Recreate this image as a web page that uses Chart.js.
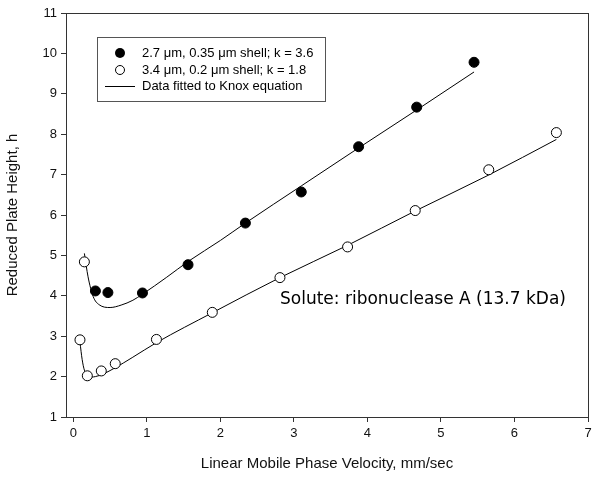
<!DOCTYPE html>
<html>
<head>
<meta charset="utf-8">
<script src="https://cdn.jsdelivr.net/npm/chart.js@4.4.1/dist/chart.umd.min.js"></script>
<style>
  html, body { margin: 0; padding: 0; background: #fff; }
  #wrap { width: 600px; height: 477px; }
</style>
</head>
<body>
<div id="wrap"><canvas id="plateChart"></canvas></div>
<script>
// measured points
const shell035X = [0.30, 0.47, 0.94, 1.56, 2.34, 3.10, 3.88, 4.67, 5.45];
const shell035Y = [4.12, 4.08, 4.07, 4.77, 5.80, 6.57, 7.69, 8.67, 9.78];
const shell02X = [0.09, 0.15, 0.19, 0.38, 0.57, 1.13, 1.89, 2.81, 3.73, 4.65, 5.65, 6.57];
const shell02Y = [2.91, 4.84, 2.02, 2.14, 2.32, 2.92, 3.59, 4.45, 5.21, 6.11, 7.12, 8.04];

// Knox fit curves
const fit035X = [0.15, 0.20, 0.27, 0.35, 0.50, 0.65, 0.81, 0.94, 1.27, 1.57, 2.00, 2.34, 3.10, 3.88, 4.67, 5.45];
const fit035Y = [5.05, 4.47, 3.98, 3.78, 3.71, 3.77, 3.89, 4.04, 4.46, 4.86, 5.37, 5.80, 6.72, 7.66, 8.60, 9.54];
const fit02X = [0.09, 0.12, 0.15, 0.20, 0.25, 0.30, 0.40, 0.57, 0.80, 1.13, 1.89, 2.81, 3.73, 4.65, 5.65, 6.57];
const fit02Y = [2.85, 2.42, 2.16, 2.03, 1.99, 2.00, 2.06, 2.22, 2.47, 2.84, 3.58, 4.45, 5.25, 6.10, 6.99, 7.87];

const xTicks = [0, 1, 2, 3, 4, 5, 6, 7];
const yTicks = [1, 2, 3, 4, 5, 6, 7, 8, 9, 10, 11];

const labels = [
  "2.7 \u03bcm, 0.35 \u03bcm shell; k = 3.6",
  "3.4 \u03bcm, 0.2 \u03bcm shell; k = 1.8",
  "Data fitted to Knox equation"
];
const note = "Solute: ribonuclease A (13.7 kDa)";

const toPoints = (xs, ys) => xs.map((x, i) => ({ x, y: ys[i] }));
const axisFont = { family: "'Liberation Sans', Arial, sans-serif", size: 13 };
const titleFont = { family: "'Liberation Sans', Arial, sans-serif", size: 15 };

const framePlugin = {
  id: "frame",
  afterDraw(chart) {
    const { ctx, chartArea: a } = chart;
    ctx.save();
    ctx.strokeStyle = "#333";
    ctx.lineWidth = 1;
    ctx.strokeRect(a.left + 0.5, a.top + 0.5, a.right - a.left, a.bottom - a.top);

    // legend box
    const bx = 97, by = 37, bw = 228, bh = 64;
    ctx.fillStyle = "#fff";
    ctx.fillRect(bx, by, bw, bh);
    ctx.strokeStyle = "#555";
    ctx.strokeRect(bx + 0.5, by + 0.5, bw, bh);
    ctx.font = "13px 'Liberation Sans', Arial, sans-serif";
    ctx.textBaseline = "middle";
    ctx.fillStyle = "#000";
    const rows = [53, 70, 86];
    ctx.beginPath();
    ctx.arc(120, rows[0], 5, 0, Math.PI * 2);
    ctx.fill();
    ctx.beginPath();
    ctx.arc(120, rows[1], 4.5, 0, Math.PI * 2);
    ctx.strokeStyle = "#000";
    ctx.stroke();
    ctx.beginPath();
    ctx.moveTo(105, rows[2] + 0.5);
    ctx.lineTo(135, rows[2] + 0.5);
    ctx.stroke();
    labels.forEach((t, i) => ctx.fillText(t, 142, rows[i]));

    // solute note
    ctx.font = "17px 'DejaVu Sans', Verdana, sans-serif";
    ctx.fillText(note, 280, 300);
    ctx.restore();
  }
};

new Chart(document.getElementById("plateChart"), {
  type: "scatter",
  data: {
    datasets: [
      {
        label: labels[0],
        data: toPoints(shell035X, shell035Y),
        backgroundColor: "#000",
        borderColor: "#000",
        pointRadius: 5,
        pointHoverRadius: 5
      },
      {
        label: labels[1],
        data: toPoints(shell02X, shell02Y),
        backgroundColor: "#fff",
        borderColor: "#000",
        borderWidth: 1,
        pointRadius: 5,
        pointHoverRadius: 5
      },
      {
        label: labels[2],
        data: toPoints(fit035X, fit035Y),
        showLine: true,
        borderColor: "#000",
        borderWidth: 1,
        pointRadius: 0,
        cubicInterpolationMode: "monotone"
      },
      {
        label: labels[2],
        data: toPoints(fit02X, fit02Y),
        showLine: true,
        borderColor: "#000",
        borderWidth: 1,
        pointRadius: 0,
        cubicInterpolationMode: "monotone"
      }
    ]
  },
  options: {
    responsive: true,
    maintainAspectRatio: false,
    animation: false,
    layout: { padding: { top: 13, right: 12, left: 0, bottom: 0 } },
    plugins: { legend: { display: false }, tooltip: { enabled: false } },
    scales: {
      x: {
        type: "linear",
        min: -0.1,
        max: 7,
        afterFit: s => { s.height = 60; },
        afterBuildTicks: s => { s.ticks = xTicks.map(v => ({ value: v })); },
        border: { display: true, color: "#333" },
        grid: { drawOnChartArea: false, drawTicks: true, tickLength: 5, color: "#333" },
        ticks: { color: "#111", font: axisFont, padding: 4 },
        title: { display: true, text: "Linear Mobile Phase Velocity, mm/sec", color: "#111", font: titleFont, padding: { top: 4 } }
      },
      y: {
        type: "linear",
        min: 1,
        max: 11,
        afterFit: s => { s.width = 66; },
        afterBuildTicks: s => { s.ticks = yTicks.map(v => ({ value: v })); },
        border: { display: true, color: "#333" },
        grid: { drawOnChartArea: false, drawTicks: true, tickLength: 5, color: "#333" },
        ticks: { color: "#111", font: axisFont, padding: 4 },
        title: { display: true, text: "Reduced Plate Height, h", color: "#111", font: titleFont, padding: { bottom: 4 } }
      }
    }
  },
  plugins: [framePlugin]
});
</script>
</body>
</html>
